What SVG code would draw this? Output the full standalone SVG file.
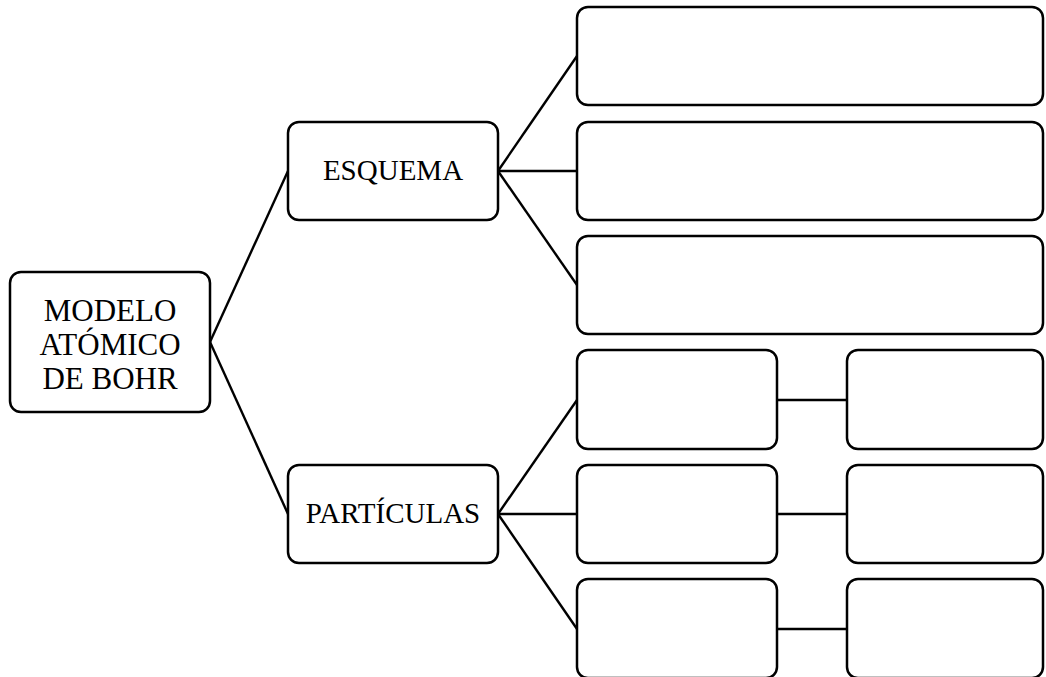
<svg xmlns="http://www.w3.org/2000/svg" width="1046" height="677" viewBox="0 0 1046 677">
  <style>
    .box { fill: #ffffff; stroke: #000000; stroke-width: 2.5; }
    .link { fill: none; stroke: #000000; stroke-width: 2.4; }
    .label { font-family: "Liberation Serif", "Times New Roman", serif; fill: #000000; text-anchor: middle; }
  </style>
  <rect width="1046" height="677" fill="#ffffff"/>

  <!-- connectors -->
  <g id="connectors">
    <line class="link" x1="210" y1="342" x2="288" y2="171"/>
    <line class="link" x1="210" y1="342" x2="288" y2="514"/>
    <line class="link" x1="498" y1="171" x2="577" y2="56"/>
    <line class="link" x1="498" y1="171" x2="577" y2="171"/>
    <line class="link" x1="498" y1="171" x2="577" y2="285"/>
    <line class="link" x1="498" y1="514" x2="577" y2="400"/>
    <line class="link" x1="498" y1="514" x2="577" y2="514"/>
    <line class="link" x1="498" y1="514" x2="577" y2="629"/>
    <line class="link" x1="777" y1="400" x2="847" y2="400"/>
    <line class="link" x1="777" y1="514" x2="847" y2="514"/>
    <line class="link" x1="777" y1="629" x2="847" y2="629"/>
  </g>

  <!-- root -->
  <g id="root">
    <rect class="box" x="10" y="272" width="200" height="140" rx="11"/>
    <text class="label" font-size="31"><tspan x="110" y="321">MODELO</tspan><tspan x="110" y="355">ATÓMICO</tspan><tspan x="110" y="389">DE BOHR</tspan></text>
  </g>

  <!-- branches -->
  <g id="esquema">
    <rect class="box" x="288" y="122" width="210" height="98" rx="11"/>
    <text class="label" font-size="29" x="393" y="180">ESQUEMA</text>
  </g>
  <g id="particulas">
    <rect class="box" x="288" y="465" width="210" height="98" rx="11"/>
    <text class="label" font-size="29" x="393" y="523">PARTÍCULAS</text>
  </g>

  <!-- esquema leaves -->
  <g id="esquema-1"><rect class="box" x="577" y="7" width="466" height="98" rx="11"/></g>
  <g id="esquema-2"><rect class="box" x="577" y="122" width="466" height="98" rx="11"/></g>
  <g id="esquema-3"><rect class="box" x="577" y="236" width="466" height="98" rx="11"/></g>

  <!-- particle leaves -->
  <g id="particula-1"><rect class="box" x="577" y="350" width="200" height="99" rx="11"/></g>
  <g id="particula-1-detalle"><rect class="box" x="847" y="350" width="196" height="99" rx="11"/></g>
  <g id="particula-2"><rect class="box" x="577" y="465" width="200" height="98" rx="11"/></g>
  <g id="particula-2-detalle"><rect class="box" x="847" y="465" width="196" height="98" rx="11"/></g>
  <g id="particula-3"><rect class="box" x="577" y="579" width="200" height="99" rx="11"/></g>
  <g id="particula-3-detalle"><rect class="box" x="847" y="579" width="196" height="99" rx="11"/></g>
</svg>
